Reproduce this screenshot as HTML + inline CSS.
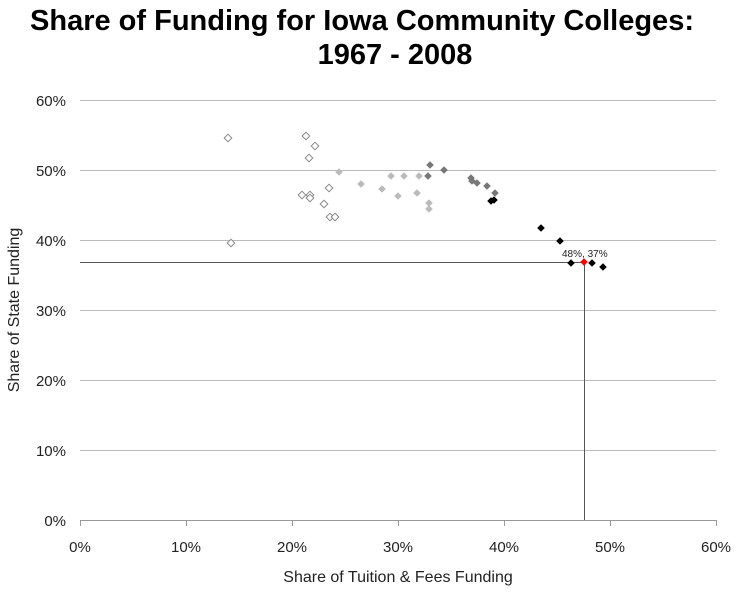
<!DOCTYPE html>
<html><head><style>body{margin:0;background:#fff}</style></head><body>
<svg width="741" height="593" xmlns="http://www.w3.org/2000/svg" font-family="Liberation Sans, sans-serif">
<defs>
<path id="d" d="M0,-3.8L3.8,0L0,3.8L-3.8,0Z"/>
</defs>
<text x="362" y="30" font-size="29" font-weight="bold" text-anchor="middle" textLength="664" lengthAdjust="spacingAndGlyphs">Share of Funding for Iowa Community Colleges:</text>
<text x="395" y="64" font-size="29" font-weight="bold" text-anchor="middle">1967 - 2008</text>
<g stroke="#bbb" stroke-width="1">
<line x1="80" y1="100.5" x2="716" y2="100.5"/><line x1="80" y1="170.5" x2="716" y2="170.5"/>
<line x1="80" y1="240.5" x2="716" y2="240.5"/><line x1="80" y1="310.5" x2="716" y2="310.5"/>
<line x1="80" y1="380.5" x2="716" y2="380.5"/><line x1="80" y1="450.5" x2="716" y2="450.5"/>
</g>
<line x1="80" y1="520.5" x2="716" y2="520.5" stroke="#999"/>
<g stroke="#999"><line x1="80.5" y1="520" x2="80.5" y2="526"/><line x1="186.5" y1="520" x2="186.5" y2="526"/><line x1="292.5" y1="520" x2="292.5" y2="526"/><line x1="398.5" y1="520" x2="398.5" y2="526"/><line x1="504.5" y1="520" x2="504.5" y2="526"/><line x1="610.5" y1="520" x2="610.5" y2="526"/><line x1="716.5" y1="520" x2="716.5" y2="526"/></g>
<g font-size="15" text-anchor="end" fill="#222">
<text x="66" y="106">60%</text><text x="66" y="176">50%</text><text x="66" y="246">40%</text><text x="66" y="316">30%</text><text x="66" y="386">20%</text><text x="66" y="456">10%</text><text x="66" y="526">0%</text></g>
<g font-size="15" text-anchor="middle" fill="#222">
<text x="80" y="552">0%</text><text x="186" y="552">10%</text><text x="292" y="552">20%</text><text x="398" y="552">30%</text><text x="504" y="552">40%</text><text x="610" y="552">50%</text><text x="716" y="552">60%</text></g>
<text x="398" y="582" font-size="16" text-anchor="middle" fill="#222">Share of Tuition &amp; Fees Funding</text>
<text transform="translate(19,310) rotate(-90)" font-size="16" text-anchor="middle" fill="#222">Share of State Funding</text>
<line x1="80" y1="262.5" x2="584" y2="262.5" stroke="#555"/>
<line x1="584.5" y1="262" x2="584.5" y2="520" stroke="#555"/>
<g fill="#fff" stroke="#888" stroke-width="1">
<use href="#d" x="228" y="138"/><use href="#d" x="306" y="136"/><use href="#d" x="315" y="146"/><use href="#d" x="309" y="158"/><use href="#d" x="302" y="195"/><use href="#d" x="310" y="195"/><use href="#d" x="310" y="198"/><use href="#d" x="324" y="204"/><use href="#d" x="329" y="188"/><use href="#d" x="330" y="217"/><use href="#d" x="335" y="217"/><use href="#d" x="231" y="243"/></g>
<g fill="#bbb">
<use href="#d" x="339" y="172"/><use href="#d" x="361" y="184"/><use href="#d" x="382" y="189"/><use href="#d" x="391" y="176"/><use href="#d" x="398" y="196"/><use href="#d" x="404" y="176"/><use href="#d" x="417" y="193"/><use href="#d" x="419" y="176"/><use href="#d" x="429" y="203"/><use href="#d" x="429" y="209"/></g>
<g fill="#777">
<use href="#d" x="430" y="165"/><use href="#d" x="444" y="170"/><use href="#d" x="428" y="176"/><use href="#d" x="471" y="178"/><use href="#d" x="472" y="181"/><use href="#d" x="477" y="183"/><use href="#d" x="487" y="186"/><use href="#d" x="495" y="193"/></g>
<g fill="#000">
<use href="#d" x="491" y="201"/><use href="#d" x="494" y="200"/><use href="#d" x="541" y="228"/><use href="#d" x="560" y="241"/><use href="#d" x="571" y="263"/><use href="#d" x="592" y="263"/><use href="#d" x="603" y="267"/></g>
<use href="#d" x="584" y="262" fill="#f00"/>
<text x="562" y="257" font-size="10" fill="#222">48%, 37%</text>
</svg>
</body></html>
